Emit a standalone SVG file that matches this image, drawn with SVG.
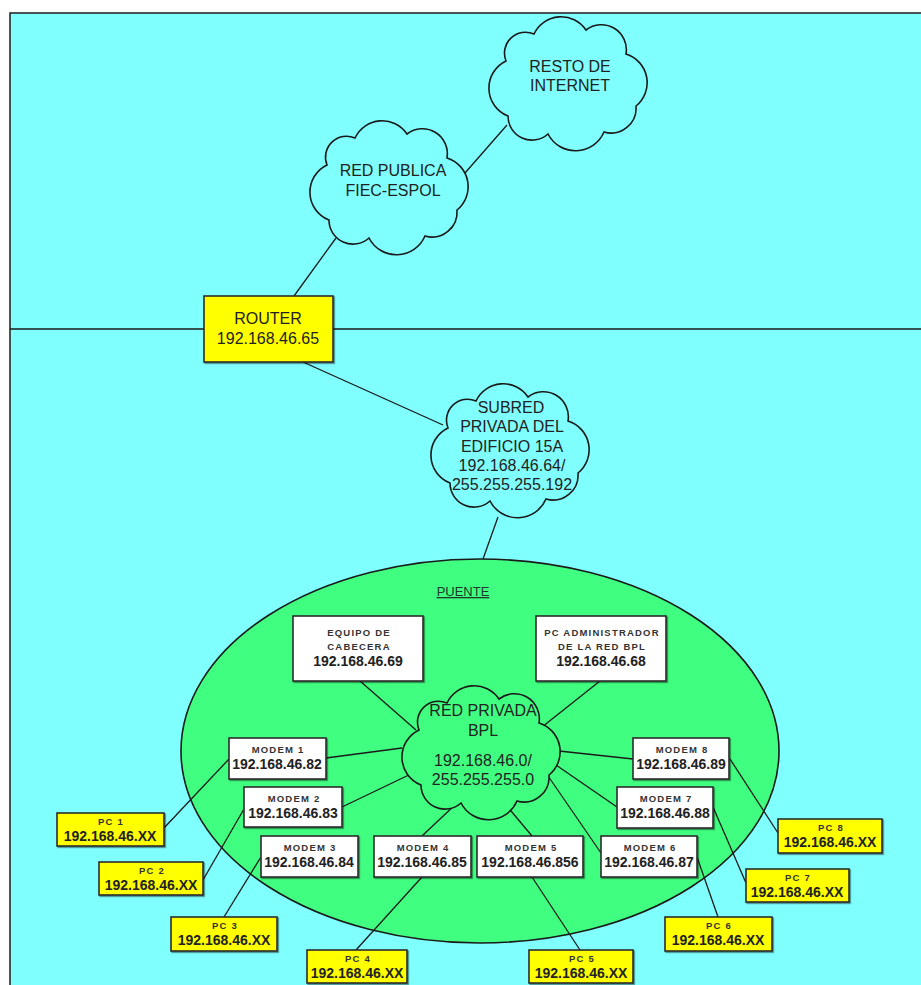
<svg xmlns="http://www.w3.org/2000/svg" xmlns:xlink="http://www.w3.org/1999/xlink" width="921" height="985" viewBox="0 0 921 985">
<style>
  .bg { fill: #80FFFF; stroke: #2a2a2a; stroke-width: 1.6; }
  .div { stroke: #1a1a1a; stroke-width: 1.3; fill: none; }
  .conn line { stroke: #1a1a1a; stroke-width: 1.3; fill: none; }
  .cloud { stroke: #1a1a1a; stroke-width: 1.6; }
  .cy { fill: #80FFFF; }
  .gr { fill: #40FF80; }
  .box { fill: #FFFFFF; stroke: #2a2a2a; stroke-width: 1.6; filter: url(#sh); }
  .ybox { fill: #FFFF00; stroke: #2a2a2a; stroke-width: 1.6; filter: url(#sh); }
  text { font-family: "Liberation Sans", Arial, sans-serif; fill: #222; text-anchor: middle; }
  .big { font-size: 16px; }
  .ip { font-size: 14px; font-weight: bold; }
  .sm { font-size: 9.5px; font-weight: bold; letter-spacing: 1.2px; fill: #333; }
  .pu { font-size: 13px; text-decoration: underline; fill: #1e3a2a; }
</style>
<defs>
  <filter id="sh" x="-10%" y="-10%" width="130%" height="140%">
    <feDropShadow dx="1.2" dy="1.2" stdDeviation="0.6" flood-color="#000" flood-opacity="0.45"/>
  </filter>
  <path id="cl" d="M20,45 A21,21 0 0 1 48,18 A30,30 0 0 1 100,14 A25,25 0 0 1 140,38 A30,30 0 0 1 150,90 A25,25 0 0 1 118,116 A31,31 0 0 1 62,118 A24,24 0 0 1 22,100 A30,30 0 0 1 20,45 Z"/>
</defs>

<rect class="bg" x="10" y="13" width="920" height="980"/>
<line class="div" x1="10" y1="329" x2="921" y2="329"/>

<g id="puente">
  <ellipse cx="480" cy="751" rx="299" ry="192" fill="#40FF80" stroke="#1a1a1a" stroke-width="1.6"/>
  <text class="pu" x="463" y="596">PUENTE</text>
</g>

<g id="connectors" class="conn">
  <line x1="465" y1="173" x2="507" y2="125"/>
  <line x1="294" y1="296" x2="336" y2="238"/>
  <line x1="303" y1="362" x2="443" y2="425"/>
  <line x1="498" y1="517" x2="483" y2="559"/>
  <line x1="360" y1="681" x2="416" y2="730"/>
  <line x1="600" y1="681" x2="537" y2="731"/>
  <line x1="326" y1="758" x2="402" y2="748"/>
  <line x1="342" y1="807" x2="413" y2="773"/>
  <line x1="422" y1="836" x2="457" y2="803"/>
  <line x1="532" y1="836" x2="506" y2="805"/>
  <line x1="601" y1="853" x2="546" y2="773"/>
  <line x1="617" y1="807" x2="556" y2="765"/>
  <line x1="633" y1="759" x2="559" y2="751"/>
  <line x1="164" y1="828" x2="229" y2="759"/>
  <line x1="203" y1="880" x2="244" y2="809"/>
  <line x1="224" y1="917" x2="261" y2="857"/>
  <line x1="356" y1="950" x2="422" y2="877"/>
  <line x1="580" y1="950" x2="532" y2="877"/>
  <line x1="718" y1="917" x2="697" y2="857"/>
  <line x1="746" y1="883" x2="713" y2="807"/>
  <line x1="778" y1="833" x2="730" y2="759"/>
</g>

<g id="resto-internet">
  <use xlink:href="#cl" href="#cl" class="cloud cy" transform="translate(486,16)"/>
  <text class="big" x="570" y="72">RESTO DE</text>
  <text class="big" x="570" y="91">INTERNET</text>
</g>

<g id="red-publica">
  <use xlink:href="#cl" href="#cl" class="cloud cy" transform="translate(307,120)"/>
  <text class="big" x="393" y="176">RED PUBLICA</text>
  <text class="big" x="393" y="196">FIEC-ESPOL</text>
</g>

<g id="router">
  <rect class="ybox" x="204" y="296" width="129" height="66"/>
  <text class="big" x="268" y="324">ROUTER</text>
  <text class="big" x="268" y="344">192.168.46.65</text>
</g>

<g id="subred">
  <use xlink:href="#cl" href="#cl" class="cloud cy" transform="translate(428,383)"/>
  <text class="big" x="511" y="413">SUBRED</text>
  <text class="big" x="512" y="432">PRIVADA DEL</text>
  <text class="big" x="512" y="452">EDIFICIO 15A</text>
  <text class="big" x="512" y="471">192.168.46.64/</text>
  <text class="big" x="512" y="490">255.255.255.192</text>
</g>

<g id="equipo-cabecera">
  <rect class="box" x="293" y="616" width="130" height="65"/>
  <text class="sm" x="359" y="636">EQUIPO DE</text>
  <text class="sm" x="359" y="650">CABECERA</text>
  <text class="ip" x="358" y="666">192.168.46.69</text>
</g>

<g id="pc-admin">
  <rect class="box" x="536" y="616" width="130" height="65"/>
  <text class="sm" x="602" y="636">PC ADMINISTRADOR</text>
  <text class="sm" x="602" y="650">DE LA RED BPL</text>
  <text class="ip" x="601" y="666">192.168.46.68</text>
</g>

<g id="red-bpl">
  <use xlink:href="#cl" href="#cl" class="cloud gr" transform="translate(399,685)"/>
  <text class="big" x="483" y="716">RED PRIVADA</text>
  <text class="big" x="483" y="736">BPL</text>
  <text class="big" x="483" y="766">192.168.46.0/</text>
  <text class="big" x="483" y="785">255.255.255.0</text>
</g>

<g id="modem1">
  <rect class="box" x="229" y="738" width="97" height="41"/>
  <text class="sm" x="278" y="753">MODEM 1</text>
  <text class="ip" x="277" y="769">192.168.46.82</text>
</g>
<g id="modem2">
  <rect class="box" x="244" y="787" width="98" height="40"/>
  <text class="sm" x="294" y="802">MODEM 2</text>
  <text class="ip" x="293" y="818">192.168.46.83</text>
</g>
<g id="modem3">
  <rect class="box" x="261" y="836" width="97" height="41"/>
  <text class="sm" x="310" y="851">MODEM 3</text>
  <text class="ip" x="309" y="867">192.168.46.84</text>
</g>
<g id="modem4">
  <rect class="box" x="374" y="836" width="97" height="41"/>
  <text class="sm" x="423" y="851">MODEM 4</text>
  <text class="ip" x="422" y="867">192.168.46.85</text>
</g>
<g id="modem5">
  <rect class="box" x="477" y="836" width="106" height="41"/>
  <text class="sm" x="531" y="851">MODEM 5</text>
  <text class="ip" x="530" y="867">192.168.46.856</text>
</g>
<g id="modem6">
  <rect class="box" x="601" y="836" width="96" height="41"/>
  <text class="sm" x="650" y="851">MODEM 6</text>
  <text class="ip" x="649" y="867">192.168.46.87</text>
</g>
<g id="modem7">
  <rect class="box" x="617" y="787" width="96" height="41"/>
  <text class="sm" x="666" y="802">MODEM 7</text>
  <text class="ip" x="665" y="818">192.168.46.88</text>
</g>
<g id="modem8">
  <rect class="box" x="633" y="738" width="96" height="41"/>
  <text class="sm" x="682" y="753">MODEM 8</text>
  <text class="ip" x="681" y="769">192.168.46.89</text>
</g>

<g id="pc1">
  <rect class="ybox" x="57" y="813" width="107" height="33"/>
  <text class="sm" x="111" y="825">PC 1</text>
  <text class="ip" x="110" y="841">192.168.46.XX</text>
</g>
<g id="pc2">
  <rect class="ybox" x="99" y="862" width="104" height="33"/>
  <text class="sm" x="152" y="874">PC 2</text>
  <text class="ip" x="151" y="890">192.168.46.XX</text>
</g>
<g id="pc3">
  <rect class="ybox" x="171" y="917" width="106" height="34"/>
  <text class="sm" x="225" y="929">PC 3</text>
  <text class="ip" x="224" y="945">192.168.46.XX</text>
</g>
<g id="pc4">
  <rect class="ybox" x="307" y="950" width="100" height="33"/>
  <text class="sm" x="358" y="962">PC 4</text>
  <text class="ip" x="357" y="978">192.168.46.XX</text>
</g>
<g id="pc5">
  <rect class="ybox" x="529" y="950" width="104" height="33"/>
  <text class="sm" x="582" y="962">PC 5</text>
  <text class="ip" x="581" y="978">192.168.46.XX</text>
</g>
<g id="pc6">
  <rect class="ybox" x="665" y="917" width="107" height="34"/>
  <text class="sm" x="719" y="929">PC 6</text>
  <text class="ip" x="718" y="945">192.168.46.XX</text>
</g>
<g id="pc7">
  <rect class="ybox" x="746" y="869" width="103" height="33"/>
  <text class="sm" x="798" y="881">PC 7</text>
  <text class="ip" x="797" y="897">192.168.46.XX</text>
</g>
<g id="pc8">
  <rect class="ybox" x="778" y="819" width="104" height="34"/>
  <text class="sm" x="831" y="831">PC 8</text>
  <text class="ip" x="830" y="847">192.168.46.XX</text>
</g>
</svg>
